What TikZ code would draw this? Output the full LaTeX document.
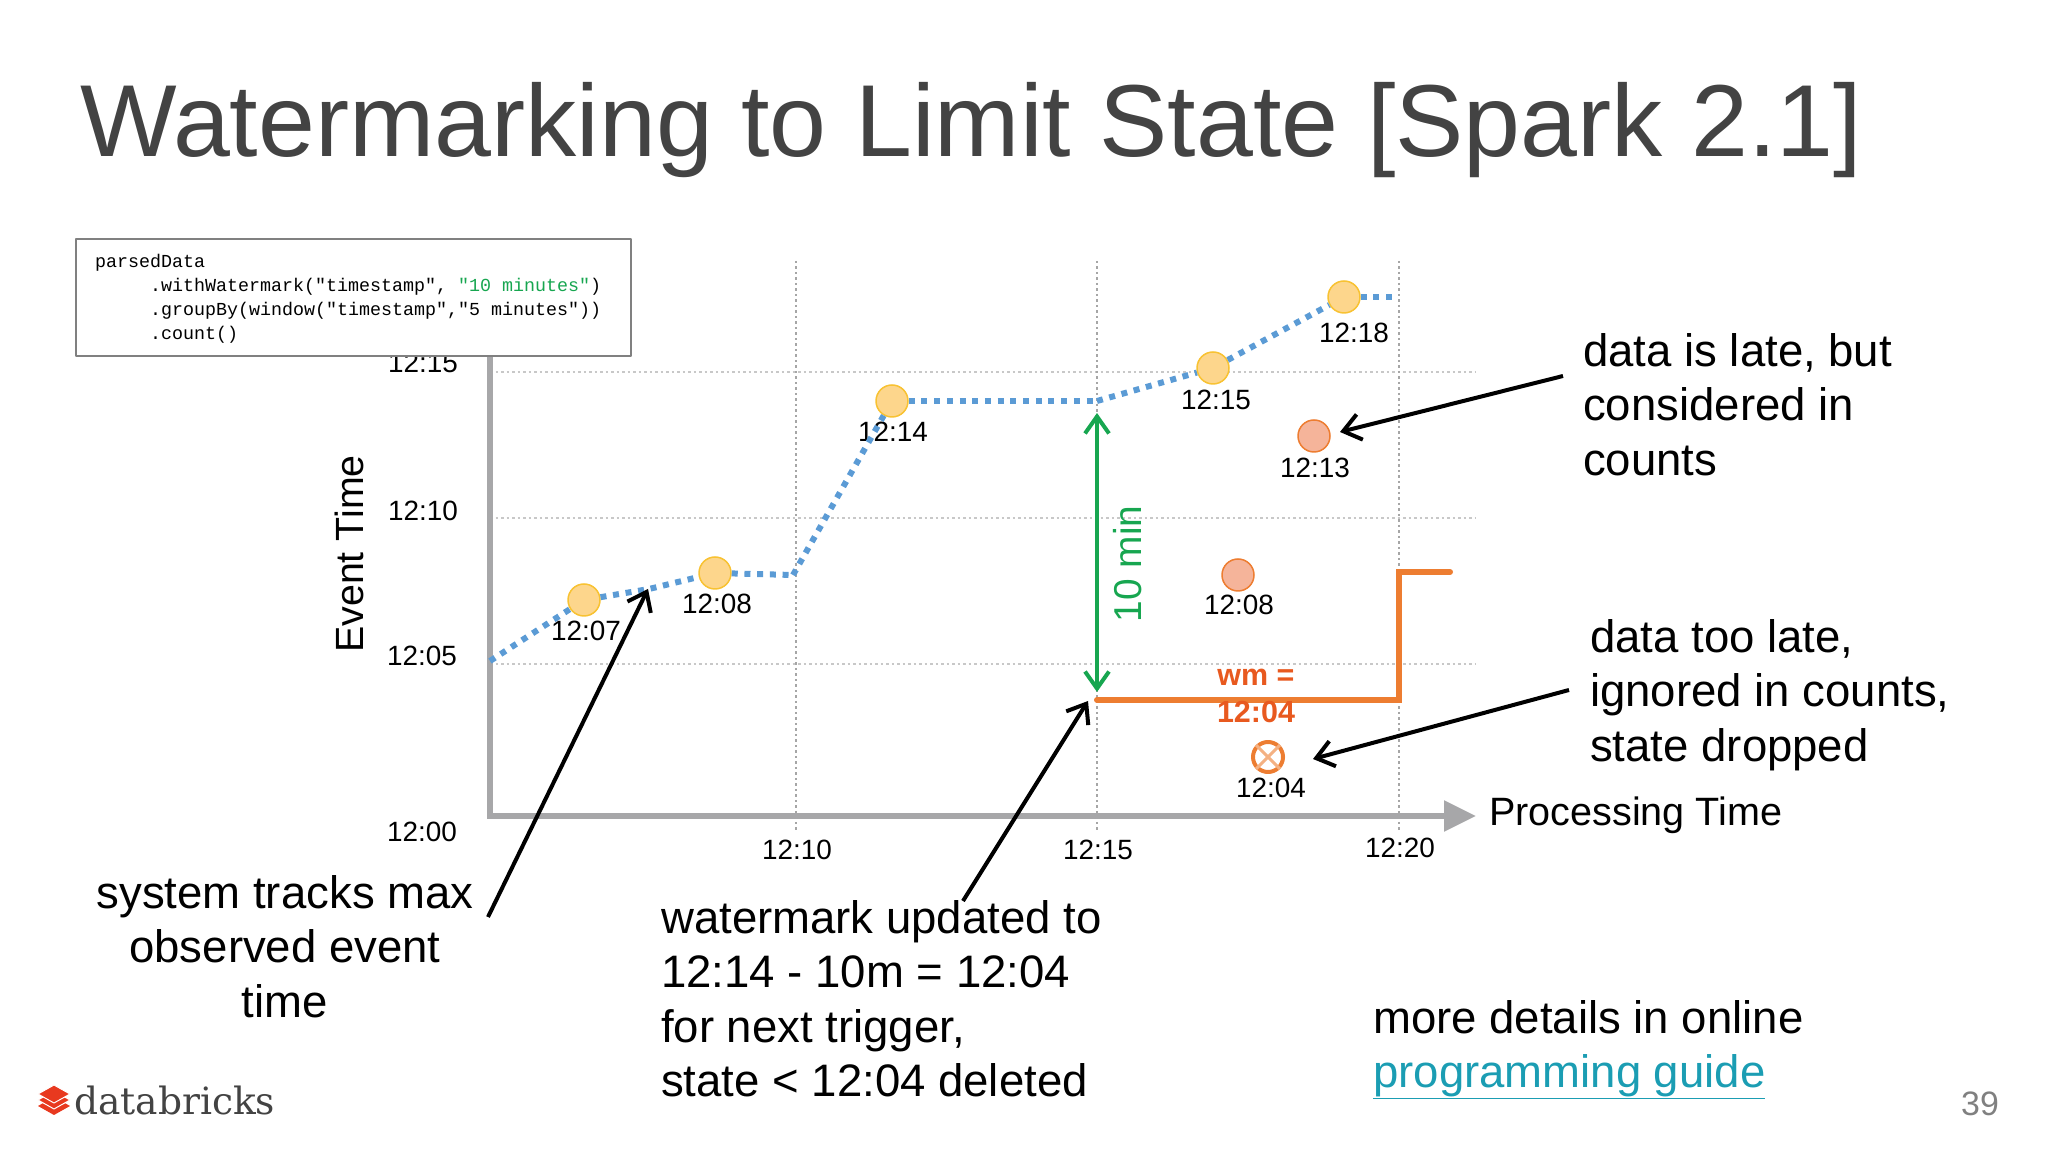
\documentclass[tikz,border=0pt]{standalone}
\usepackage{fontspec}
\setmainfont{Liberation Sans}
\setmonofont{Liberation Mono}
\newfontfamily\logofont{DejaVu Serif}
\definecolor{titlegray}{HTML}{434343}
\definecolor{axisgray}{HTML}{A7A7A9}
\definecolor{gridgray}{HTML}{C8C8C8}
\definecolor{trackblue}{HTML}{5B9BD5}
\definecolor{markgreen}{HTML}{17A650}
\definecolor{wmorange}{HTML}{ED7D31}
\definecolor{wmtext}{HTML}{E8591F}
\definecolor{linkteal}{HTML}{1B9DB3}
\definecolor{logored}{HTML}{E8391F}
\definecolor{ontimefill}{HTML}{FDD68C}
\definecolor{ontimeline}{HTML}{F8C232}
\definecolor{latefill}{HTML}{F5B49A}
\usetikzlibrary{arrows.meta}
\tikzset{
  tick/.style={inner sep=0pt,font=\fontsize{28}{32}\selectfont},
  callout/.style={inner sep=0pt,align=left,anchor=north west,font=\fontsize{45.7}{54.8}\selectfont},
  ontime/.style={circle,draw=ontimeline,fill=ontimefill,line width=1.5bp,minimum size=32bp,inner sep=0pt},
  latedot/.style={circle,draw=wmorange,fill=latefill,line width=1.5bp,minimum size=32bp,inner sep=0pt},
  gridline/.style={gridgray,line width=2.2bp,dash pattern=on 2.5bp off 3bp},
  gridrise/.style={gridline,black!35},
  track/.style={trackblue,line width=6bp,dash pattern=on 6bp off 6.7bp},
  pointer/.style={black,line width=4bp,-{Straight Barb[length=17bp,width=26bp,line width=4bp]}},
}
\begin{document}
\begin{tikzpicture}[>=latex,line join=bevel,]
    \useasboundingbox (0bp,0bp) rectangle (2048bp,1152bp);
    %%
    \node (title) at (80bp,995bp) [inner sep=0pt,anchor=base west,text=titlegray,font=\fontsize{102.7}{110}\selectfont] {Watermarking to Limit State [Spark 2.1]};
    %
    \coordinate (g10t) at (796bp,891bp);
    \coordinate (g10b) at (796bp,322bp);
    \coordinate (g15t) at (1097bp,891bp);
    \coordinate (g15b) at (1097bp,322bp);
    \coordinate (g20t) at (1399bp,891bp);
    \coordinate (g20b) at (1399bp,322bp);
    \coordinate (h15l) at (490bp,780bp);
    \coordinate (h15r) at (1476bp,780bp);
    \coordinate (h10l) at (490bp,634bp);
    \coordinate (h10r) at (1476bp,634bp);
    \coordinate (h05l) at (490bp,488bp);
    \coordinate (h05r) at (1476bp,488bp);
    \draw [gridline] (h15l) -- (h15r);
    \draw [gridline] (h10l) -- (h10r);
    \draw [gridline] (h05l) -- (h05r);
    \draw [gridrise] (g10t) -- (g10b);
    \draw [gridrise] (g15t) -- (g15b);
    \draw [gridrise] (g20t) -- (g20b);
    %
    \coordinate (origin) at (490bp,336bp);
    \coordinate (ytop) at (490bp,800bp);
    \coordinate (xend) at (1476bp,336bp);
    \draw [axisgray,line width=5.5bp,line join=miter,-{Triangle[length=32bp,width=30bp]}] (ytop) -- (origin) -- (xend);
    %
    \node (y15) at (423bp,789bp) [tick] {12:15};
    \node (y10) at (423bp,641bp) [tick] {12:10};
    \node (y05) at (422bp,496bp) [tick] {12:05};
    \node (y00) at (422bp,320bp) [tick] {12:00};
    \node (x10) at (797bp,302bp) [tick] {12:10};
    \node (x15) at (1098bp,302bp) [tick] {12:15};
    \node (x20) at (1400bp,304bp) [tick] {12:20};
    \node (ylabel) at (349bp,598bp) [inner sep=0pt,rotate=90,font=\fontsize{39.5}{44}\selectfont] {Event Time};
    \node (xlabel) at (1489bp,337bp) [inner sep=0pt,anchor=west,font=\fontsize{39.7}{44}\selectfont] {Processing Time};
    %
    \node (p07) at (584bp,552bp) [ontime] {};
    \node (p08) at (715bp,579bp) [ontime] {};
    \node (p14) at (892bp,751bp) [ontime] {};
    \node (p15) at (1213bp,784bp) [ontime] {};
    \node (p18) at (1344bp,855bp) [ontime] {};
    \node (l13) at (1314bp,716bp) [latedot] {};
    \node (l08) at (1238bp,577bp) [latedot] {};
    \node (drop) at (1268bp,395bp) [circle,draw=wmorange,line width=4bp,minimum size=30bp,inner sep=0pt] {};
    \draw [wmorange!60,line width=3bp] (drop.north west) -- (drop.south east);
    \draw [wmorange!60,line width=3bp] (drop.north east) -- (drop.south west);
    \node (t07) at (586bp,521bp) [tick] {12:07};
    \node (t08) at (717bp,548bp) [tick] {12:08};
    \node (t14) at (893bp,720bp) [tick] {12:14};
    \node (t15) at (1216bp,752bp) [tick] {12:15};
    \node (t18) at (1354bp,819bp) [tick] {12:18};
    \node (t13) at (1315bp,684bp) [tick] {12:13};
    \node (t08b) at (1239bp,547bp) [tick] {12:08};
    \node (t04) at (1271bp,364bp) [tick] {12:04};
    %
    \coordinate (b0) at (490bp,491bp);
    \coordinate (b1) at (649bp,563bp);
    \coordinate (b2) at (793bp,577bp);
    \coordinate (b3) at (1097bp,751bp);
    \coordinate (b4) at (1392bp,855bp);
    \draw [track] (b0) -- (p07);
    \draw [track] (p07) -- (b1) -- (p08);
    \draw [track] (p08) -- (b2);
    \draw [track] (b2) -- (p14);
    \draw [track] (p14) -- (b3);
    \draw [track] (b3) -- (p15);
    \draw [track] (p15) -- (p18);
    \draw [track] (p18) -- (b4);
    %
    \coordinate (w0) at (1097bp,452bp);
    \coordinate (w1) at (1399bp,452bp);
    \coordinate (w2) at (1399bp,580bp);
    \coordinate (w3) at (1450bp,580bp);
    \draw [wmorange,line width=6bp,line cap=round,line join=miter] (w0) -- (w1) -- (w2) -- (w3);
    \coordinate (g0) at (1097bp,739bp);
    \coordinate (g1) at (1097bp,460bp);
    \draw [markgreen,line width=4bp,{Straight Barb[length=17bp,width=24bp,line width=4bp]}-{Straight Barb[length=17bp,width=24bp,line width=4bp]}] (g0) -- (g1);
    \node (tenmin) at (1128bp,588bp) [inner sep=0pt,rotate=90,text=markgreen,font=\fontsize{39}{44}\selectfont] {10 min};
    \node (wmeq) at (1256bp,475bp) [inner sep=0pt,text=wmtext,font=\bfseries\fontsize{30.6}{34}\selectfont] {wm =};
    \node (wmval) at (1256bp,440bp) [inner sep=0pt,text=wmtext,font=\bfseries\fontsize{30.6}{34}\selectfont] {12:04};
    %
    \node (code) at (75bp,914bp) [draw=gray,line width=2bp,fill=white,anchor=north west,minimum width=555bp,minimum height=117bp,inner sep=0pt] {};
    \node (codetext) at (95bp,898bp) [inner sep=0pt,anchor=north west,align=left,font=\ttfamily\fontsize{18.4}{24}\selectfont] {parsedData\\
      \hspace*{55bp}.withWatermark("timestamp", \textcolor{markgreen}{"10 minutes"})\\
      \hspace*{55bp}.groupBy(window("timestamp","5 minutes"))\\
      \hspace*{55bp}.count()};
    %
    \node (late) at (1583bp,819bp) [callout] {data is late, but\\considered in\\counts};
    \node (toolate) at (1590bp,533bp) [callout] {data too late,\\ignored in counts,\\state dropped};
    \node (tracks) at (285bp,277bp) [callout,align=center,anchor=north] {system tracks max\\observed event\\time};
    \node (updated) at (661bp,252bp) [callout] {watermark updated to\\12:14 - 10m = 12:04\\for next trigger,\\state < 12:04 deleted};
    \node (more) at (1373bp,152bp) [callout] {more details in online\\\textcolor{linkteal}{\underline{programming guide}}};
    \node (page) at (1980bp,48bp) [inner sep=0pt,text=gray,font=\fontsize{34}{38}\selectfont] {39};
    %
    \coordinate (a1s) at (1563bp,776bp);
    \coordinate (a1e) at (1340bp,720bp);
    \coordinate (a2s) at (1569bp,462bp);
    \coordinate (a2e) at (1313bp,393bp);
    \coordinate (a3s) at (488bp,235bp);
    \coordinate (a3e) at (648bp,563bp);
    \coordinate (a4s) at (963bp,251bp);
    \coordinate (a4e) at (1088bp,451bp);
    \draw [pointer] (a1s) -- (a1e);
    \draw [pointer] (a2s) -- (a2e);
    \draw [pointer] (a3s) -- (a3e);
    \draw [pointer] (a4s) -- (a4e);
    %
    \fill [logored] (38bp,46bp) -- (54bp,37bp) -- (70bp,46bp) -- (54bp,55bp) -- cycle;
    \fill [logored,draw=white,line width=1bp] (38bp,52bp) -- (54bp,43bp) -- (70bp,52bp) -- (54bp,61bp) -- cycle;
    \fill [logored,draw=white,line width=1bp] (38bp,58bp) -- (54bp,49bp) -- (70bp,58bp) -- (54bp,67bp) -- cycle;
    \node (logo) at (74bp,52bp) [inner sep=0pt,anchor=west,text=titlegray,font=\logofont\fontsize{37.7}{40}\selectfont] {databricks};
    %
\end{tikzpicture}
\end{document}
